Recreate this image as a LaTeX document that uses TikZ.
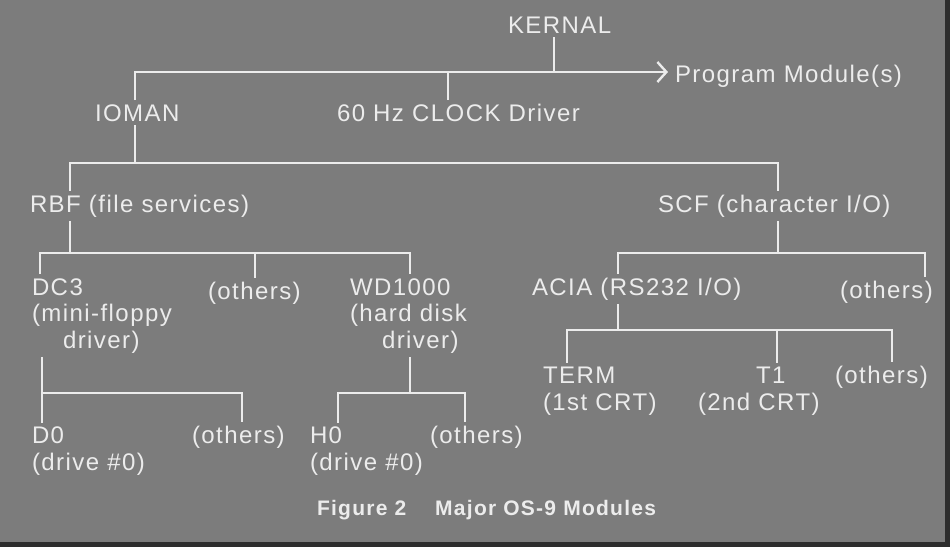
\documentclass[tikz,border=0pt]{standalone}
\usepackage{fontspec}
\setmainfont{Liberation Sans}[LetterSpace=6]
\usetikzlibrary{arrows.meta}
\definecolor{board}{RGB}{124,124,124}
\definecolor{chalk}{RGB}{236,236,236}
\definecolor{rim}{RGB}{45,45,45}

\begin{document}
\begin{tikzpicture}[x=1pt, y=-1pt,
    module/.style={inner sep=0pt, outer xsep=0pt, outer ysep=4pt, anchor=base west, text=chalk,
                   font=\fontsize{24}{26.5}\selectfont},
    wire/.style={line width=2.4pt, draw=chalk},
   ]

    \fill[board] (0,0) rectangle (950,547);
    \fill[rim] (0,542) rectangle (950,547);
    \fill[rim] (945,0) rectangle (950,547);
    \useasboundingbox (0,0) rectangle (950,547);

    \node (kernal)  [module] at (508,33)  { KERNAL };
    \node (prog)    [module] at (675,82)  { Program Module(s) };
    \node (ioman)   [module] at (95,121)  { IOMAN };
    \node (clock)   [module] at (337,121) { 60 Hz CLOCK Driver };

    \node (rbf)     [module] at (30,212)  { RBF (file services) };
    \node (scf)     [module] at (658,212) { SCF (character I/O) };

    \node (dcthree) [module,align=left] at (32,348)  { DC3\\(mini-floppy\\\hspace*{31pt}driver) };
    \node (othersA) [module] at (208,299) { (others) };
    \node (wdk)     [module,align=left] at (350,348) { WD1000\\(hard disk\\\hspace*{32pt}driver) };
    \node (acia)    [module] at (532,295) { ACIA (RS232 I/O) };
    \node (othersB) [module] at (840,298) { (others) };

    \node (term)    [module,align=left] at (543,410) { TERM\\(1st CRT) };
    \node (tone)    [module,align=left] at (698,410) { \hspace*{58pt}T1\\(2nd CRT) };
    \node (othersE) [module] at (835,383) { (others) };

    \node (dzero)   [module,align=left] at (32,470)  { D0\\(drive \#0) };
    \node (othersC) [module] at (192,443) { (others) };
    \node (hzero)   [module,align=left] at (310,470) { H0\\(drive \#0) };
    \node (othersD) [module] at (430,443) { (others) };

    \node (caption) [module,font=\fontsize{21}{24}\selectfont\bfseries] at (317,515)
        { Figure 2\hspace{29pt}Major OS-9 Modules };

    \coordinate (b0w) at (135,72);
    \coordinate (b0k) at (554,72);
    \coordinate (b0c) at (448,72);
    \coordinate (b1w) at (70,163);
    \coordinate (b1e) at (778,163);
    \coordinate (b2w) at (40,253);
    \coordinate (b2m) at (255,253);
    \coordinate (b2e) at (410,253);
    \coordinate (b3w) at (618,253);
    \coordinate (b3e) at (925,253);
    \coordinate (b4w) at (42,393);
    \coordinate (b4e) at (242,393);
    \coordinate (b5w) at (338,393);
    \coordinate (b5m) at (410,393);
    \coordinate (b5e) at (465,393);
    \coordinate (b6w) at (567,330);
    \coordinate (b6m) at (777,330);
    \coordinate (b6e) at (892,330);

    \draw[wire] (b0k |- kernal.south) -- (b0k);
    \draw[wire, -{Straight Barb[length=9pt,width=20pt]}, shorten >=7pt]
        (b0w |- ioman.north) -- (b0w) -- (prog.west |- b0w);
    \draw[wire] (b0c) -- (b0c |- clock.north);

    \draw[wire] (b0w |- ioman.south) -- (b0w |- b1w);
    \draw[wire] (b1w |- rbf.north) -- (b1w) -- (b1e) -- (b1e |- scf.north);

    \draw[wire] (b1w |- rbf.south) -- (b1w |- b2w);
    \draw[wire] (b2w |- dcthree.north) -- (b2w) -- (b2e) -- (b2e |- wdk.north);
    \draw[wire] (b2m) -- (b2m |- othersA.north);

    \draw[wire] (b1e |- scf.south) -- (b1e |- b3w);
    \draw[wire] (b3w |- acia.north) -- (b3w) -- (b3e) -- (b3e |- othersB.north);

    \draw[wire] (b4w |- dcthree.south) -- (b4w |- dzero.north);
    \draw[wire] (b4w) -- (b4e) -- (b4e |- othersC.north);

    \draw[wire] (b5m |- wdk.south) -- (b5m);
    \draw[wire] (b5w |- hzero.north) -- (b5w) -- (b5e) -- (b5e |- othersD.north);

    \draw[wire] (b3w |- acia.south) -- (b3w |- b6w);
    \draw[wire] (b6w |- term.north) -- (b6w) -- (b6e) -- (b6e |- othersE.north);
    \draw[wire] (b6m) -- (b6m |- tone.north);
  \end{tikzpicture}
\end{document}
